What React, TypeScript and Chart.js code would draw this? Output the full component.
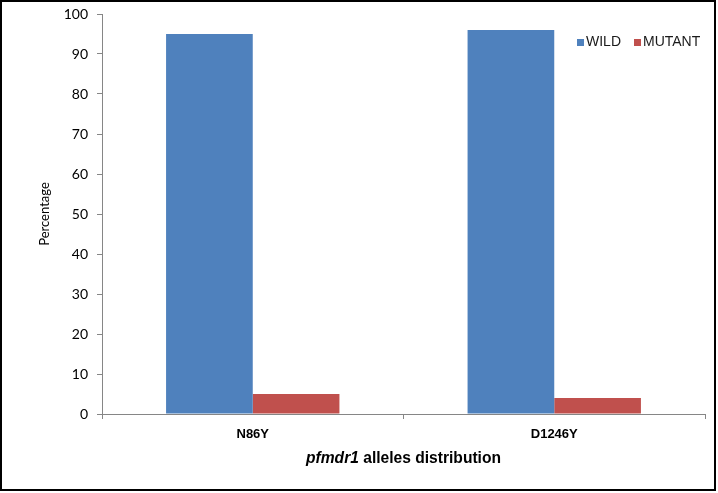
import React, { useEffect, useRef } from 'react';
import { Chart, registerables, Plugin } from 'chart.js';

Chart.register(...registerables);

const categories = ['N86Y', 'D1246Y'];
const wildValues = [95, 96];
const mutantValues = [5, 4];
const yTicks = [0, 10, 20, 30, 40, 50, 60, 70, 80, 90, 100];

const BLUE = '#4F81BD';
const RED = '#C0504D';
const AXIS = '#868686';

// legend in the top right corner of the plot, Excel style
const cornerLegend: Plugin<'bar'> = {
  id: 'cornerLegend',
  afterDraw(chart) {
    const ctx = chart.ctx;
    ctx.save();
    ctx.font = '14px "Liberation Sans", Arial, sans-serif';
    ctx.textBaseline = 'middle';
    let x = 575;
    const y = 40;
    chart.data.datasets.forEach((ds) => {
      ctx.fillStyle = ds.backgroundColor as string;
      ctx.fillRect(x, y - 3, 7, 7);
      ctx.fillStyle = '#1a1a1a';
      const label = ds.label || '';
      ctx.fillText(label, x + 9, y);
      x += 9 + ctx.measureText(label).width + 13;
    });
    ctx.restore();
  },
};

// x title with an italic gene name
const mixedTitle: Plugin<'bar'> = {
  id: 'mixedTitle',
  afterDraw(chart) {
    const ctx = chart.ctx;
    const area = chart.chartArea;
    const italicFont = 'italic bold 15.6px "Liberation Sans", Arial, sans-serif';
    const boldFont = 'bold 15.6px "Liberation Sans", Arial, sans-serif';
    const a = 'pfmdr1';
    const b = ' alleles distribution';
    ctx.save();
    ctx.font = italicFont;
    const wa = ctx.measureText(a).width;
    ctx.font = boldFont;
    const wb = ctx.measureText(b).width;
    let x = (area.left + area.right) / 2 - (wa + wb) / 2;
    const y = 457;
    ctx.textBaseline = 'middle';
    ctx.fillStyle = '#000';
    ctx.font = italicFont;
    ctx.fillText(a, x, y);
    x += wa;
    ctx.font = boldFont;
    ctx.fillText(b, x, y);
    ctx.restore();
  },
};

const App: React.FC = () => {
  const chartRef = useRef<HTMLCanvasElement>(null);

  useEffect(() => {
    const ctx = chartRef.current?.getContext('2d');
    if (!ctx) {
      return;
    }

    const chart = new Chart(ctx, {
      type: 'bar',
      data: {
        labels: categories,
        datasets: [
          {
            label: 'WILD',
            data: wildValues,
            backgroundColor: BLUE,
            borderWidth: 0,
            barPercentage: 1,
            categoryPercentage: 0.575,
          },
          {
            label: 'MUTANT',
            data: mutantValues,
            backgroundColor: RED,
            borderWidth: 0,
            barPercentage: 1,
            categoryPercentage: 0.575,
          },
        ],
      },
      options: {
        animation: false,
        responsive: true,
        maintainAspectRatio: false,
        layout: { padding: { left: 0, right: 9, top: 12, bottom: 0 } },
        plugins: {
          legend: { display: false },
          tooltip: { enabled: false },
        },
        scales: {
          x: {
            grid: {
              display: true,
              drawOnChartArea: false,
              drawTicks: true,
              tickLength: 5,
              color: AXIS,
              offset: true,
            },
            border: { color: AXIS, width: 1 },
            ticks: {
              color: '#000',
              padding: 8,
              font: { family: '"Liberation Sans Narrow", "Liberation Sans", Arial', size: 13, weight: 'bold' },
            },
            afterFit(scale) {
              scale.height = 75;
            },
          },
          y: {
            min: 0,
            max: 100,
            afterBuildTicks(scale) {
              scale.ticks = yTicks.map((v) => ({ value: v }));
            },
            grid: {
              display: true,
              drawOnChartArea: false,
              drawTicks: true,
              tickLength: 5,
              color: AXIS,
            },
            border: { color: AXIS, width: 1 },
            ticks: {
              color: '#000',
              padding: 9,
              font: { family: 'Lato, "Open Sans", sans-serif', size: 14 },
            },
            title: {
              display: true,
              text: 'Percentage',
              color: '#000',
              padding: { top: 35, bottom: 0 },
              font: { family: 'Lato, "Open Sans", sans-serif', size: 13 },
            },
            afterFit(scale) {
              scale.width = 100;
              scale.paddingTop = 0;
              scale.paddingBottom = 0;
            },
          },
        },
      },
      plugins: [cornerLegend, mixedTitle],
    });
    return () => {
      chart.destroy();
    };
  }, []);

  return (
    <div
      style={{
        position: 'fixed',
        left: 0,
        top: 0,
        width: 716,
        height: 491,
        boxSizing: 'border-box',
        border: '2px solid #000',
        background: '#fff',
      }}
    >
      <div style={{ position: 'relative', width: 712, height: 487 }}>
        <canvas ref={chartRef}></canvas>
      </div>
    </div>
  );
};

export default App;
